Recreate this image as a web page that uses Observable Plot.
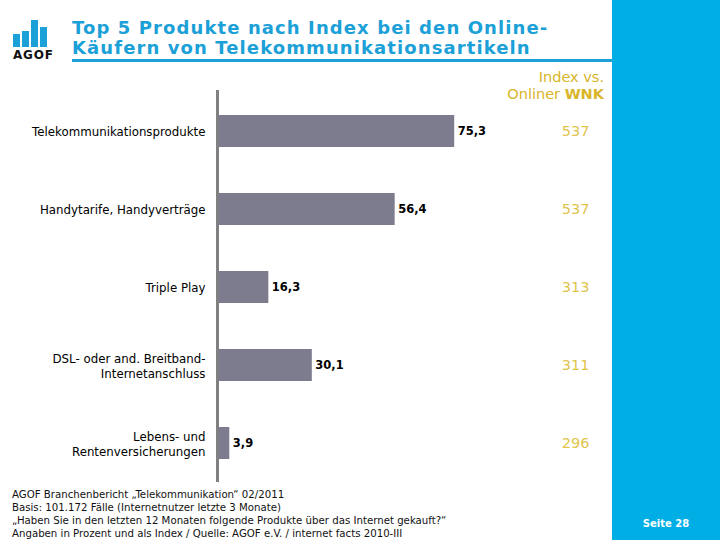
<!DOCTYPE html>
<html>
<head>
<meta charset="utf-8">
<script src="https://cdn.jsdelivr.net/npm/d3@7"></script>
<script src="https://cdn.jsdelivr.net/npm/@observablehq/plot@0.6"></script>
<style>
  html, body { margin: 0; padding: 0; background: #fff; }
  #page { position: relative; width: 720px; height: 540px; overflow: hidden; font-family: "DejaVu Sans", Verdana, sans-serif; background: #fff; }
  #panel { position: absolute; left: 612px; top: 0; width: 108px; height: 540px; background: #00aee6; }
  #title { position: absolute; left: 72px; top: 18px; font-weight: bold; font-size: 18px; line-height: 20px; color: #1ba0d7; letter-spacing: 1.1px; white-space: nowrap; }
  #rule { position: absolute; left: 72px; top: 59px; width: 540px; height: 3px; background: #1ba0d7; }
  #logo { position: absolute; left: 12px; top: 18px; width: 46px; height: 44px; }
  #logo .b { position: absolute; bottom: 15px; width: 7px; background: #1ba0d7; }
  #logo .t { position: absolute; left: 1px; bottom: 0; font-weight: bold; font-size: 12px; letter-spacing: 0.8px; color: #111; }
  #hdr { position: absolute; right: 116px; top: 69px; text-align: right; font-size: 14.5px; line-height: 17px; color: #d9b52a; }
  #chart { position: absolute; left: 0; top: 85px; }
  #foot { position: absolute; left: 12px; top: 488px; font-size: 10.2px; line-height: 13px; color: #111; white-space: nowrap; }
  #seite { position: absolute; left: 612px; width: 108px; top: 518px; text-align: center; font-size: 10px; font-weight: bold; color: #fff; }
</style>
</head>
<body>
<div id="page">
  <div id="panel"></div>
  <div id="logo">
    <div class="b" style="left:1px;height:13px"></div>
    <div class="b" style="left:10px;height:16px"></div>
    <div class="b" style="left:19px;height:27px"></div>
    <div class="b" style="left:28px;height:20px"></div>
    <div class="t">AGOF</div>
  </div>
  <div id="title">Top 5 Produkte nach Index bei den Online-<br>Käufern von Telekommunikationsartikeln</div>
  <div id="rule"></div>
  <div id="hdr">Index vs.<br>Onliner <b>WNK</b></div>
  <div id="chart"></div>
  <div id="foot">AGOF Branchenbericht „Telekommunikation“ 02/2011<br>Basis: 101.172 Fälle (Internetnutzer letzte 3 Monate)<br>„Haben Sie in den letzten 12 Monaten folgende Produkte über das Internet gekauft?“<br>Angaben in Prozent und als Index / Quelle: AGOF e.V. / internet facts 2010-III</div>
  <div id="seite">Seite 28</div>
</div>
<script>
const categories = [
  "Telekommunikationsprodukte",
  "Handytarife, Handyverträge",
  "Triple Play",
  "DSL- oder and. Breitband-\nInternetanschluss",
  "Lebens- und\nRentenversicherungen"
];
const percents = [75.3, 56.4, 16.3, 30.1, 3.9];
const indexValues = [537, 537, 313, 311, 296];

const data = categories.map((c, i) => ({cat: c, pct: percents[i], idx: indexValues[i]}));
const fmt = v => v.toFixed(1).replace(".", ",");

const chart = Plot.plot({
  width: 612,
  height: 400,
  marginTop: 5,
  marginBottom: 3,
  marginLeft: 217,
  marginRight: 0,
  style: {fontFamily: "'DejaVu Sans', Verdana, sans-serif", background: "transparent"},
  x: {domain: [0, 100], range: [217, 532], axis: null},
  y: {domain: categories, range: [7, 397], paddingInner: 0.59, paddingOuter: 0.295, label: null},
  marks: [
    Plot.barX(data, {x: "pct", y: "cat", fill: "#7c7c8e"}),
    Plot.ruleX([0], {stroke: "#808080", strokeWidth: 3}),
    Plot.axisY({tickSize: 0, tickPadding: 12, fontSize: 11.8, lineHeight: 1.3, fill: "#000", label: null}),
    Plot.text(data, {x: "pct", y: "cat", text: d => fmt(d.pct), textAnchor: "start", dx: 3, fontWeight: "bold", fontSize: 11.5, fill: "#000"}),
    Plot.text(data, {y: "cat", text: d => String(d.idx), frameAnchor: "right", textAnchor: "end", dx: -23, fontSize: 14.5, fill: "#e0c44c"})
  ]
});
document.getElementById("chart").appendChild(chart);
</script>
</body>
</html>
